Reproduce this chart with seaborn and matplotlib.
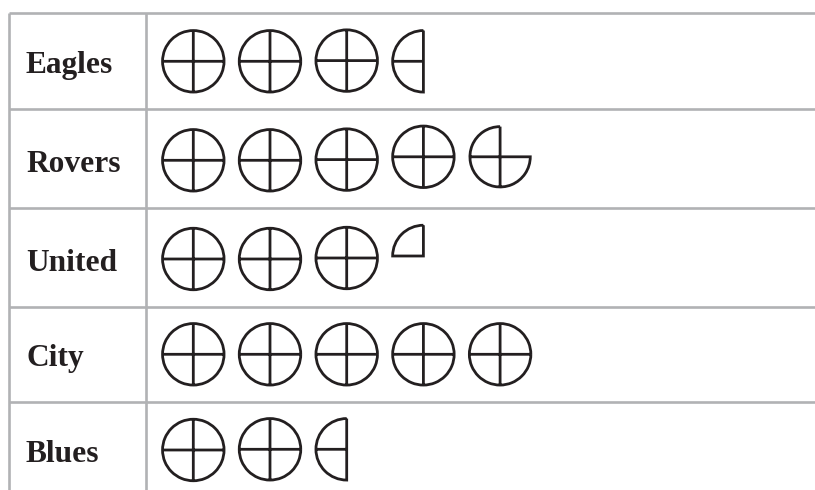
import matplotlib
matplotlib.use("Agg")
import matplotlib.pyplot as plt
from matplotlib.path import Path
import numpy as np
import pandas as pd
import seaborn as sns

# Data: number of symbols for each team (1 symbol = 4 quarters)
teams = ["Eagles", "Rovers", "United", "City", "Blues"]
symbols = [3.5, 4.75, 3.25, 5.0, 2.5]

# Layout, in figure pixels
WIDTH, HEIGHT = 815, 490
row_centres = [61.3, 160.3, 259.0, 354.3, 450.0]
row_lines = [13.3, 109.0, 208.0, 306.7, 401.7]
col_lines = [9.3, 145.7]
first_col, col_step = 193.3, 76.7
diameter_px = 61.5
row_nudge = {(1, 3): -3.5, (1, 4): -3.5, (2, 3): -3.0, (0, 2): -0.7,
             (1, 2): -0.7, (2, 2): -1.0, (4, 1): -0.7, (4, 2): -0.7}

INK = "#231f20"
GRID = "#b1b2b4"


def seg(*pts):
    return Path(pts, [Path.MOVETO] + [Path.LINETO] * (len(pts) - 1))


def glyph(theta1, theta2, outline, *spokes):
    """Arc continued by straight outline points (joined), plus loose spokes."""
    arc = Path.arc(theta1, theta2)
    verts = np.vstack([arc.vertices, np.array(outline).reshape(-1, 2)])
    codes = np.concatenate([arc.codes, [Path.LINETO] * len(outline)])
    parts = [Path(verts, codes)] + [seg(*s) for s in spokes]
    return Path.make_compound_path(*parts)


o, up, down, left, right = (0, 0), (0, 1), (0, -1), (-1, 0), (1, 0)
markers = {
    1.0: glyph(0, 360, [], (up, down), (left, right)),
    0.75: glyph(90, 360, [o, up], (o, down), (left, o)),
    0.5: glyph(90, 270, [up], (left, o)),
    0.25: glyph(90, 180, [o, up]),
}

rows = []
for r, (team, value) in enumerate(zip(teams, symbols)):
    c = 0
    while value > 0:
        frac = min(value, 1.0)
        rows.append({"x": first_col + c * col_step,
                     "y": row_centres[r] + row_nudge.get((r, c), 0.0),
                     "fraction": frac})
        value -= frac
        c += 1
df = pd.DataFrame(rows)

sns.set_theme(style="white")
plt.rcParams["font.family"] = ["Liberation Serif", "DejaVu Serif"]

fig = plt.figure(figsize=(WIDTH / 100, HEIGHT / 100), dpi=100, facecolor="white")
ax = fig.add_axes([0, 0, 1, 1])
ax.set_xlim(0, WIDTH)
ax.set_ylim(HEIGHT, 0)

size = (diameter_px * 72 / 100) ** 2
sns.scatterplot(data=df, x="x", y="y", style="fraction", markers=markers,
                s=size, legend=False, ax=ax, zorder=3, clip_on=False)
pts = ax.collections[0]
pts.set_facecolor("none")
pts.set_edgecolor(INK)
pts.set_linewidth(2.0)
pts.set_joinstyle("miter")
pts.set_capstyle("butt")

for y in row_lines:
    ax.plot([col_lines[0], WIDTH], [y, y], color=GRID, lw=1.9, solid_capstyle="butt", zorder=1)
for x in col_lines:
    ax.plot([x, x], [row_lines[0], HEIGHT], color=GRID, lw=1.9, solid_capstyle="butt", zorder=1)

for team, y in zip(teams, row_centres):
    ax.text(26, y + 1, team, fontsize=22.6, fontweight="bold", color=INK,
            va="center_baseline", ha="left")

ax.set_xlim(0, WIDTH)
ax.set_ylim(HEIGHT, 0)
ax.axis("off")
fig.savefig("out.png", dpi=100, facecolor="white")
